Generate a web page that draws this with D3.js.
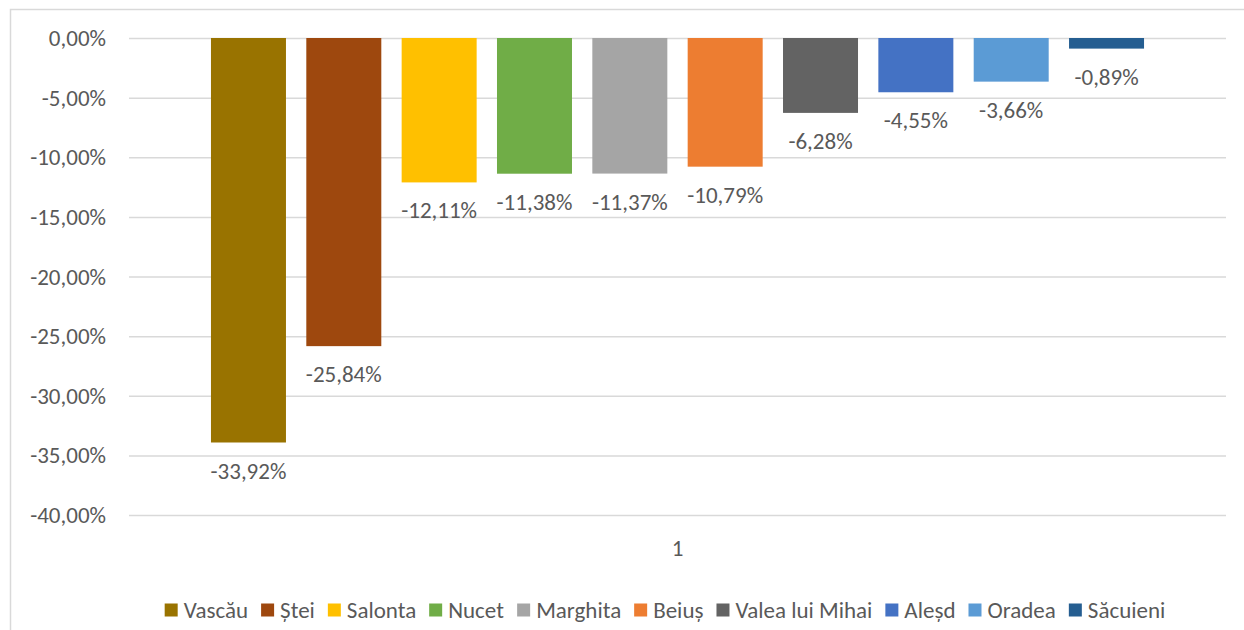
<!DOCTYPE html>
<html>
<head>
<meta charset="utf-8">
<script src="https://cdn.jsdelivr.net/npm/d3@7"></script>
<style>
  body { margin: 0; background: #fff; }
  text { font-family: Carlito, "Open Sans", sans-serif; fill: #595959; }
</style>
</head>
<body>
<svg width="1244" height="630"></svg>
<script>
// data
const categories = ["1"];
const towns = ["Vascău", "Ștei", "Salonta", "Nucet", "Marghita", "Beiuș", "Valea lui Mihai", "Aleșd", "Oradea", "Săcuieni"];
const values = [-0.3392, -0.2584, -0.1211, -0.1138, -0.1137, -0.1079, -0.0628, -0.0455, -0.0366, -0.0089];
const colors = ["#997300", "#9E480E", "#FFC000", "#70AD47", "#A5A5A5", "#ED7D31", "#636363", "#4472C4", "#5B9BD5", "#255E91"];
const yTicks = [0, -0.05, -0.10, -0.15, -0.20, -0.25, -0.30, -0.35, -0.40];

const svg = d3.select("svg");
const locale = d3.formatLocale({ decimal: ",", thousands: ".", grouping: [3], currency: ["", ""], minus: "-" });
const fmt = locale.format(".2%");

// chart border
svg.append("rect")
  .attr("x", 10.5).attr("y", 9.5)
  .attr("width", 1250).attr("height", 650)
  .attr("fill", "none").attr("stroke", "#d9d9d9").attr("stroke-width", 1.5);

const plot = { left: 129, right: 1226, top: 38, bottom: 515 };

const y = d3.scaleLinear().domain([-0.40, 0]).range([plot.bottom, plot.top]);
const x0 = d3.scaleBand().domain(categories).range([plot.left, plot.right]).paddingOuter(0.0753);
const x1 = d3.scaleBand().domain(towns).range([0, x0.bandwidth()]).paddingInner(0.2134).paddingOuter(0.1067);

// gridlines
svg.append("g")
  .attr("transform", "translate(" + plot.left + ",0)")
  .call(d3.axisLeft(y).tickValues(yTicks).tickSize(-(plot.right - plot.left)).tickFormat(""))
  .call(g => g.select(".domain").remove())
  .call(g => g.selectAll("line").attr("stroke", "#d9d9d9").attr("stroke-width", 1.5));

// y labels
svg.append("g")
  .selectAll("text")
  .data(yTicks)
  .join("text")
  .attr("x", 106)
  .attr("y", d => y(d))
  .attr("dy", "0.35em")
  .attr("text-anchor", "end")
  .style("font-size", "23px")
  .text(d => fmt(d));

// bars
const grp = svg.append("g").attr("transform", "translate(" + x0("1") + ",0)");
grp.selectAll("rect")
  .data(values)
  .join("rect")
  .attr("x", (d, i) => x1(towns[i]))
  .attr("width", x1.bandwidth())
  .attr("y", y(0))
  .attr("height", d => y(d) - y(0))
  .attr("fill", (d, i) => colors[i]);

// data labels
grp.selectAll("text")
  .data(values)
  .join("text")
  .attr("x", (d, i) => x1(towns[i]) + x1.bandwidth() / 2)
  .attr("y", d => y(d) + 28)
  .attr("dy", "0.35em")
  .attr("text-anchor", "middle")
  .style("font-size", "23px")
  .text(d => fmt(d));

// category label
svg.append("text")
  .attr("x", x0("1") + x0.bandwidth() / 2)
  .attr("y", 548)
  .attr("dy", "0.35em")
  .attr("text-anchor", "middle")
  .style("font-size", "23px")
  .text("1");

// legend
const legend = svg.append("g");
const items = legend.selectAll("g")
  .data(towns)
  .join("g");
items.append("rect")
  .attr("width", 13).attr("height", 13)
  .attr("y", -6.5)
  .attr("fill", (d, i) => colors[i]);
items.append("text")
  .attr("x", 19)
  .attr("dy", "0.35em")
  .style("font-size", "23px")
  .text(d => d);
let cx = 0;
items.each(function () {
  const w = this.getBBox().width;
  d3.select(this).attr("transform", "translate(" + cx + ",0)");
  cx += w + 13;
});
const total = cx - 13;
legend.attr("transform", "translate(" + (665 - total / 2) + ",610)");
</script>
</body>
</html>
